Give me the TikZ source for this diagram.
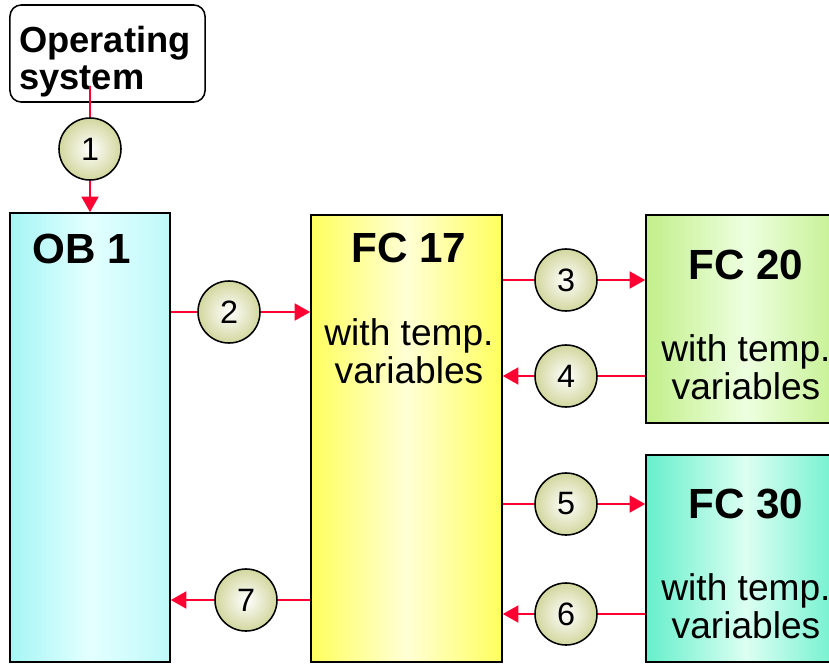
\documentclass[tikz,border=0pt]{standalone}
\usepackage{fontspec}
\setmainfont{Liberation Sans}
\usetikzlibrary{arrows.meta,positioning}
\definecolor{callred}{HTML}{FF0033}
\definecolor{stepolive}{HTML}{D2D79E}
\definecolor{obcyan}{HTML}{A6F5F5}
\definecolor{oblight}{HTML}{E4FFFF}
\definecolor{fcyellow}{HTML}{FFFF5E}
\definecolor{fclight}{HTML}{FFFFD6}
\definecolor{fcgreen}{HTML}{C2EF8A}
\definecolor{fcgreenlight}{HTML}{EDFFE0}
\definecolor{fcaqua}{HTML}{66EFCB}
\definecolor{fcaqualight}{HTML}{DCFFF2}
\tikzset{
  blockbox/.style={rectangle,draw=black,line width=1.1pt,inner sep=0pt},
  osbox/.style={rectangle,rounded corners=8pt,draw=black,line width=1.1pt,fill=white,inner sep=0pt,
    minimum width=4.875cm,minimum height=2.425cm},
  stepnum/.style={circle,draw=black,line width=1.1pt,inner color=white,outer color=stepolive,
    minimum size=1.55cm,inner sep=0pt,font=\fontsize{23}{27}\selectfont},
  titletext/.style={anchor=base,inner sep=0pt,font=\fontsize{30}{34}\selectfont\bfseries},
  subtext/.style={anchor=base,inner sep=0pt,align=center,font=\fontsize{26.4}{27}\selectfont},
  ostext/.style={anchor=base west,inner sep=0pt,align=left,font=\fontsize{25.8}{26.3}\selectfont\bfseries},
  call/.style={draw=callred,line width=1.4pt},
  callarrow/.style={call,-{Triangle[length=11pt,width=12pt]}}
}
\begin{document}
\begin{tikzpicture}[x=0.025cm,y=-0.025cm]
\useasboundingbox (0,0) rectangle (829,664);
% blocks
\node[osbox] (os) at (107.5,53.5) {};
\node[ostext] (ostitle) at (19,89) {Operating\\system};
\node[blockbox,minimum width=4cm,minimum height=11.225cm,
  left color=obcyan,right color=obcyan!60!oblight,middle color=oblight] (ob1) at (90,437.5) {};
\node[titletext] (ob1title) at (82,263) {OB 1};
\node[blockbox,minimum width=4.775cm,minimum height=11.175cm,
  left color=fcyellow,right color=fcyellow,middle color=fclight] (fc17) at (406.5,438.5) {};
\node[titletext] (fc17title) at (409,262) {FC 17};
\node[subtext] (fc17sub) at (409,383) {with temp.\\variables};
\node[blockbox,minimum width=5cm,minimum height=5.2cm,
  left color=fcgreen,right color=fcgreen,middle color=fcgreenlight] (fc20) at (746,319) {};
\node[titletext] (fc20title) at (746,279) {FC 20};
\node[subtext] (fc20sub) at (746,399) {with temp.\\variables};
\node[blockbox,minimum width=5cm,minimum height=5.175cm,
  left color=fcaqua,right color=fcaqua,middle color=fcaqualight] (fc30) at (746,558.5) {};
\node[titletext] (fc30title) at (746,518) {FC 30};
\node[subtext] (fc30sub) at (746,638) {with temp.\\variables};
% call steps
\node[stepnum] (s1) at (90,149) {1};
\node[stepnum] (s2) at (229,312) {2};
\node[stepnum] (s3) at (566,280) {3};
\node[stepnum] (s4) at (566,376) {4};
\node[stepnum] (s5) at (566,504) {5};
\node[stepnum] (s6) at (566,614) {6};
\node[stepnum] (s7) at (246,600) {7};
\coordinate (osexit) at (90,86);
% connectors
\draw[call] (osexit) -- (s1);
\draw[callarrow] (s1) -- (s1 |- ob1.north);
\draw[call] (ob1.east |- s2) -- (s2);
\draw[callarrow] (s2) -- (fc17.west |- s2);
\draw[call] (fc17.east |- s3) -- (s3);
\draw[callarrow] (s3) -- (fc20.west |- s3);
\draw[call] (fc20.west |- s4) -- (s4);
\draw[callarrow] (s4) -- (fc17.east |- s4);
\draw[call] (fc17.east |- s5) -- (s5);
\draw[callarrow] (s5) -- (fc30.west |- s5);
\draw[call] (fc30.west |- s6) -- (s6);
\draw[callarrow] (s6) -- (fc17.east |- s6);
\draw[call] (fc17.west |- s7) -- (s7);
\draw[callarrow] (s7) -- (ob1.east |- s7);
\end{tikzpicture}
\end{document}
